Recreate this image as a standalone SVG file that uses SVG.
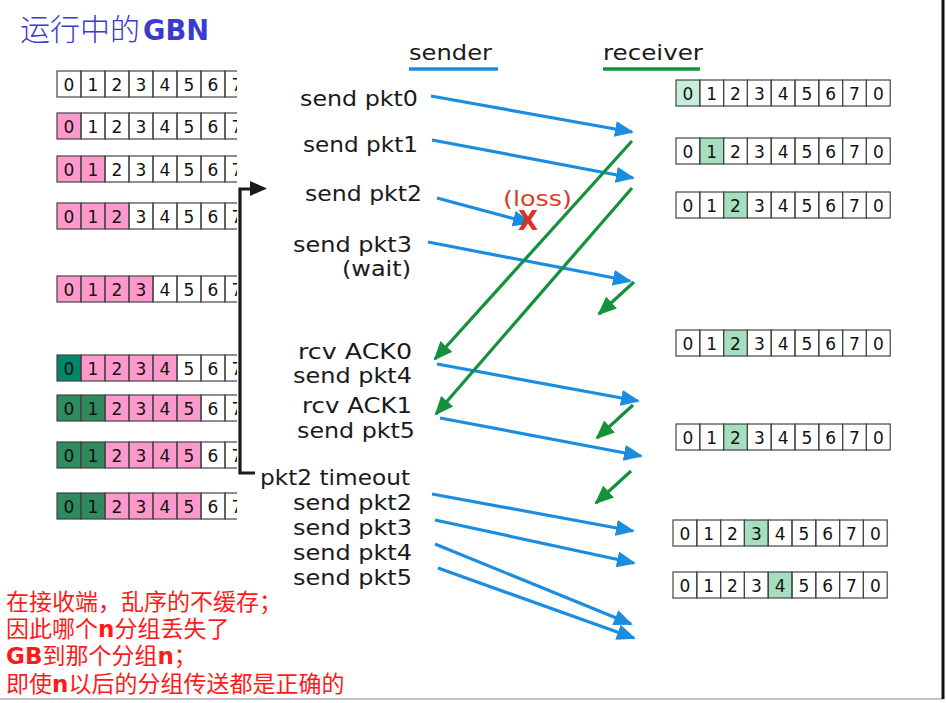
<svg xmlns="http://www.w3.org/2000/svg" xmlns:xlink="http://www.w3.org/1999/xlink" width="947" height="703" viewBox="0 0 947 703">
<style>
.cell{fill:none;stroke:#444;stroke-width:1.2}
.dg{font-family:"DejaVu Sans",sans-serif;font-size:17px;fill:#111;text-anchor:middle}
.lbl{font-family:"DejaVu Sans",sans-serif;font-size:21px;fill:#1a1a1a;text-anchor:end}
.pk{fill:#ff99cc}
.dk{fill:#2f8a5e}
.dk0{fill:#00876a}
.lg{fill:#a6dfc0}
.lg0{fill:#c8eedb}
.blue{stroke:#1a8de0;stroke-width:3.2;fill:none;marker-end:url(#ab)}
.green{stroke:#14913c;stroke-width:3.2;fill:none;marker-end:url(#ag)}
.note{font-family:"Noto Sans CJK SC",sans-serif;font-size:23px;fill:#ff1a1a}
.nb{font-family:"DejaVu Sans",sans-serif;font-weight:bold}
</style>
<defs>
<marker id="ab" markerUnits="userSpaceOnUse" markerWidth="20" markerHeight="16" refX="17" refY="8" orient="auto"><path d="M0,0 L19,8 L0,16 z" fill="#1a8de0"/></marker>
<marker id="ag" markerUnits="userSpaceOnUse" markerWidth="20" markerHeight="16" refX="17" refY="8" orient="auto"><path d="M0,0 L19,8 L0,16 z" fill="#14913c"/></marker>
<clipPath id="sclip"><rect x="50" y="-5" width="187" height="36"/></clipPath>
<g id="sgrid" clip-path="url(#sclip)">
<rect class="cell" x="57" y="0" width="24" height="26"/><rect class="cell" x="81" y="0" width="24" height="26"/><rect class="cell" x="105" y="0" width="24" height="26"/><rect class="cell" x="129" y="0" width="24" height="26"/><rect class="cell" x="153" y="0" width="24" height="26"/><rect class="cell" x="177" y="0" width="24" height="26"/><rect class="cell" x="201" y="0" width="24" height="26"/><rect class="cell" x="225" y="0" width="24" height="26"/>
<text class="dg" x="69" y="20">0</text><text class="dg" x="93" y="20">1</text><text class="dg" x="117" y="20">2</text><text class="dg" x="141" y="20">3</text><text class="dg" x="165" y="20">4</text><text class="dg" x="189" y="20">5</text><text class="dg" x="213" y="20">6</text><text class="dg" x="237" y="20">7</text>
</g>
<g id="rgrid">
<rect class="cell" x="0" y="0" width="23.8" height="26"/><rect class="cell" x="23.8" y="0" width="23.8" height="26"/><rect class="cell" x="47.6" y="0" width="23.8" height="26"/><rect class="cell" x="71.4" y="0" width="23.8" height="26"/><rect class="cell" x="95.2" y="0" width="23.8" height="26"/><rect class="cell" x="119" y="0" width="23.8" height="26"/><rect class="cell" x="142.8" y="0" width="23.8" height="26"/><rect class="cell" x="166.6" y="0" width="23.8" height="26"/><rect class="cell" x="190.4" y="0" width="23.8" height="26"/>
<text class="dg" x="11.9" y="20">0</text><text class="dg" x="35.7" y="20">1</text><text class="dg" x="59.5" y="20">2</text><text class="dg" x="83.3" y="20">3</text><text class="dg" x="107.1" y="20">4</text><text class="dg" x="130.9" y="20">5</text><text class="dg" x="154.7" y="20">6</text><text class="dg" x="178.5" y="20">7</text><text class="dg" x="202.3" y="20">0</text>
</g>
</defs>
<rect width="947" height="703" fill="#fff"/>
<g id="title"><text x="20" y="40" font-family="Noto Sans CJK SC,sans-serif" font-size="30" fill="#3b3bd0" font-weight="300">运行中的<tspan font-family="DejaVu Sans,sans-serif" font-weight="bold" font-size="28" dx="3" textLength="66" lengthAdjust="spacingAndGlyphs">GBN</tspan></text></g>
<g id="sender-label"><text x="450.5" y="60" font-family="DejaVu Sans,sans-serif" font-size="22" fill="#1a1a1a" text-anchor="middle" textLength="83" lengthAdjust="spacingAndGlyphs">sender</text><line x1="409" y1="69" x2="498" y2="69" stroke="#1a8de0" stroke-width="3.5"/></g>
<g id="receiver-label"><text x="653" y="60" font-family="DejaVu Sans,sans-serif" font-size="22" fill="#1a1a1a" text-anchor="middle" textLength="100" lengthAdjust="spacingAndGlyphs">receiver</text><line x1="603" y1="69" x2="700" y2="69" stroke="#14913c" stroke-width="3.5"/></g>
<g id="sender-windows">
<g id="s1"><use xlink:href="#sgrid" transform="translate(0,71)"/></g>
<g id="s2"><rect class="pk" x="57" y="113" width="24" height="26"/><use xlink:href="#sgrid" transform="translate(0,113)"/></g>
<g id="s3"><rect class="pk" x="57" y="156" width="48" height="26"/><use xlink:href="#sgrid" transform="translate(0,156)"/></g>
<g id="s4"><rect class="pk" x="57" y="203" width="72" height="26"/><use xlink:href="#sgrid" transform="translate(0,203)"/></g>
<g id="s5"><rect class="pk" x="57" y="276" width="96" height="26"/><use xlink:href="#sgrid" transform="translate(0,276)"/></g>
<g id="s6"><rect class="dk0" x="57" y="355" width="24" height="26"/><rect class="pk" x="81" y="355" width="96" height="26"/><use xlink:href="#sgrid" transform="translate(0,355)"/></g>
<g id="s7"><rect class="dk" x="57" y="395" width="48" height="26"/><rect class="pk" x="105" y="395" width="96" height="26"/><use xlink:href="#sgrid" transform="translate(0,395)"/></g>
<g id="s8"><rect class="dk" x="57" y="442" width="48" height="26"/><rect class="pk" x="105" y="442" width="96" height="26"/><use xlink:href="#sgrid" transform="translate(0,442)"/></g>
<g id="s9"><rect class="dk" x="57" y="493" width="48" height="26"/><rect class="pk" x="105" y="493" width="96" height="26"/><use xlink:href="#sgrid" transform="translate(0,493)"/></g>
</g>
<g id="receiver-windows">
<g id="r1"><rect class="lg0" x="676" y="80" width="23.8" height="26"/><use xlink:href="#rgrid" transform="translate(676,80)"/></g>
<g id="r2"><rect class="lg" x="699.8" y="138" width="23.8" height="26"/><use xlink:href="#rgrid" transform="translate(676,138)"/></g>
<g id="r3"><rect class="lg" x="723.6" y="192" width="23.8" height="26"/><use xlink:href="#rgrid" transform="translate(676,192)"/></g>
<g id="r4"><rect class="lg" x="723.6" y="330" width="23.8" height="26"/><use xlink:href="#rgrid" transform="translate(676,330)"/></g>
<g id="r5"><rect class="lg" x="723.6" y="424" width="23.8" height="26"/><use xlink:href="#rgrid" transform="translate(676,424)"/></g>
<g id="r6"><rect class="lg" x="744.4" y="520" width="23.8" height="26"/><use xlink:href="#rgrid" transform="translate(673,520)"/></g>
<g id="r7"><rect class="lg" x="768.2" y="572" width="23.8" height="26"/><use xlink:href="#rgrid" transform="translate(673,572)"/></g>
</g>
<g id="timer-bracket" fill="none" stroke="#1a1a1a" stroke-width="3.2">
<polyline points="255,473 240,473 240,189 252,189"/>
<path d="M250,181 L267,188.5 L250,196 z" fill="#1a1a1a" stroke="none"/>
</g>
<g id="labels">
<text class="lbl" x="418" y="106" textLength="118" lengthAdjust="spacingAndGlyphs">send pkt0</text>
<text class="lbl" x="418" y="152" textLength="115" lengthAdjust="spacingAndGlyphs">send pkt1</text>
<text class="lbl" x="422" y="201" textLength="117" lengthAdjust="spacingAndGlyphs">send pkt2</text>
<text class="lbl" x="412" y="252" textLength="119" lengthAdjust="spacingAndGlyphs">send pkt3</text>
<text class="lbl" x="411" y="276" textLength="69" lengthAdjust="spacingAndGlyphs">(wait)</text>
<text class="lbl" x="412" y="359" textLength="114" lengthAdjust="spacingAndGlyphs">rcv ACK0</text>
<text class="lbl" x="412" y="383" textLength="119" lengthAdjust="spacingAndGlyphs">send pkt4</text>
<text class="lbl" x="412" y="413" textLength="110" lengthAdjust="spacingAndGlyphs">rcv ACK1</text>
<text class="lbl" x="415" y="438" textLength="118" lengthAdjust="spacingAndGlyphs">send pkt5</text>
<text class="lbl" x="410" y="485" textLength="150" lengthAdjust="spacingAndGlyphs">pkt2 timeout</text>
<text class="lbl" x="412" y="510" textLength="119" lengthAdjust="spacingAndGlyphs">send pkt2</text>
<text class="lbl" x="412" y="535" textLength="119" lengthAdjust="spacingAndGlyphs">send pkt3</text>
<text class="lbl" x="412" y="560" textLength="119" lengthAdjust="spacingAndGlyphs">send pkt4</text>
<text class="lbl" x="412" y="585" textLength="119" lengthAdjust="spacingAndGlyphs">send pkt5</text>
</g>
<g id="connectors">
<line class="blue" x1="431" y1="96" x2="632" y2="132"/>
<line class="blue" x1="432" y1="140" x2="633" y2="178"/>
<line class="blue" x1="437" y1="198" x2="530" y2="223"/>
<line class="blue" x1="428" y1="242" x2="630" y2="281"/>
<line class="blue" x1="437" y1="364" x2="638" y2="401"/>
<line class="blue" x1="440" y1="418" x2="641" y2="456"/>
<line class="blue" x1="432" y1="494" x2="633" y2="531"/>
<line class="blue" x1="435" y1="520" x2="634" y2="563"/>
<line class="blue" x1="435" y1="544" x2="631" y2="624"/>
<line class="blue" x1="438" y1="568" x2="634" y2="638"/>
<line class="green" x1="632" y1="141" x2="435" y2="359"/>
<line class="green" x1="632" y1="188" x2="436" y2="414"/>
<line class="green" x1="634" y1="282" x2="599" y2="314"/>
<line class="green" x1="633" y1="405" x2="597" y2="438"/>
<line class="green" x1="631" y1="471" x2="596" y2="503"/>
</g>
<g id="loss">
<text x="537.5" y="206" font-family="DejaVu Sans,sans-serif" font-size="22" fill="#d9402a" text-anchor="middle" textLength="69" lengthAdjust="spacingAndGlyphs">(loss)</text>
<text x="528" y="230" font-family="DejaVu Sans,sans-serif" font-size="26" font-weight="bold" fill="#e0301e" text-anchor="middle">X</text>
</g>
<g id="note">
<text class="note" x="6" y="610">在接收端，乱序的不缓存；</text>
<text class="note" x="6" y="637">因此哪个<tspan class="nb">n</tspan>分组丢失了</text>
<text class="note" x="6" y="664"><tspan class="nb">GB</tspan>到那个分组<tspan class="nb">n</tspan>；</text>
<text class="note" x="6" y="692">即使<tspan class="nb">n</tspan>以后的分组传送都是正确的</text>
</g>
<g id="frame">
<line x1="0" y1="699" x2="943" y2="699" stroke="#b0b0b0" stroke-width="1.5"/>
<line x1="943" y1="0" x2="943" y2="699" stroke="#111" stroke-width="3"/>
</g>
</svg>
